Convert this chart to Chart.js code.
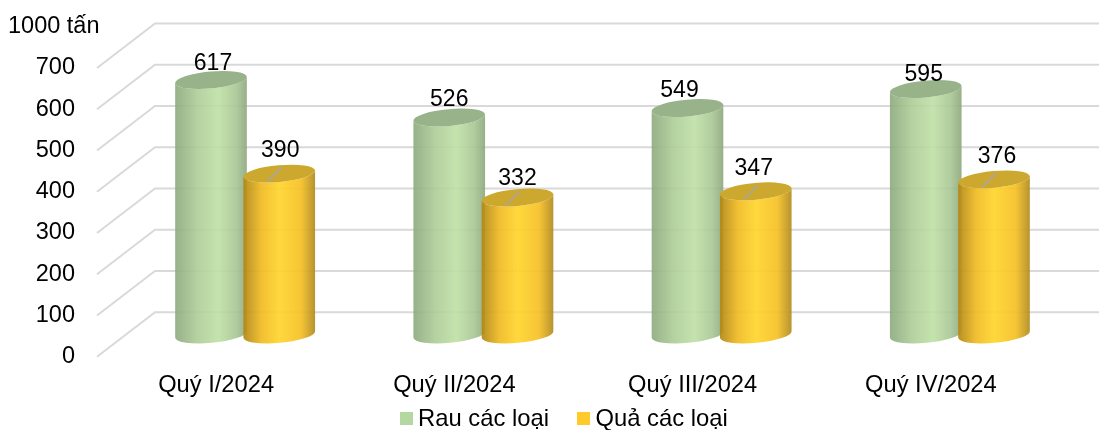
<!DOCTYPE html>
<html lang="vi">
<head>
<meta charset="utf-8">
<title>Rau quả 2024</title>
<script src="https://cdn.jsdelivr.net/npm/chart.js@4"></script>
<style>
    html, body { margin: 0; padding: 0; background: #fff; overflow: hidden; }
    #wrap { position: relative; width: 1099px; height: 430px; overflow: hidden; }
    #legend {
        position: absolute; left: 400px; top: 404px; display: flex; align-items: center;
        font-family: "Liberation Sans", Arial, sans-serif; font-size: 23.8px; color: #000; line-height: 28px; white-space: nowrap;
    }
    #legend .box { display: inline-block; width: 13px; height: 13px; margin-right: 5px; }
    #legend .item { display: flex; align-items: center; margin-right: 28.5px; }
</style>
</head>
<body>
<div id="wrap">
    <canvas id="chart"></canvas>
    <div id="legend"></div>
</div>
<script>
const categories = ['Quý I/2024', 'Quý II/2024', 'Quý III/2024', 'Quý IV/2024'];
const seriesNames = ['Rau các loại', 'Quả các loại'];
const rauValues = [617, 526, 549, 595];
const quaValues = [390, 332, 347, 376];
const yTicks = [0, 100, 200, 300, 400, 500, 600, 700];
const unitLabel = '1000 tấn';

const FONT = '"Liberation Sans", Arial, sans-serif';
const legendColors = ['#b5d8a0', '#ffca2c'];

// oblique depth of the 3D look: back wall offset from the front plane, bars stand half way
const DEPTH_X = 58;
const DEPTH_Y = -44.5;
const TILT = -0.09;
const CAP_RY = 8.4;

const bodyStops = [
    [[0, 'rgba(140,168,124,0.9)'], [0.3, 'rgba(172,204,150,0.9)'], [0.6, 'rgba(190,224,164,0.9)'], [0.85, 'rgba(168,198,148,0.9)'], [1, 'rgba(140,166,122,0.9)']],
    [[0, 'rgba(176,134,20,0.92)'], [0.25, 'rgba(240,186,34,0.92)'], [0.5, 'rgba(255,213,44,0.92)'], [0.8, 'rgba(246,192,36,0.92)'], [1, 'rgba(176,138,30,0.92)']]
];
const capColors = ['#98b38a', '#cda82f'];

// hand placement of the value labels, same as in the source picture [dx, dy from the cap]
const labelNudge = [
    [[2, -16.5], [0, -17.5], [-8, -17.5], [-2, -14.5]],
    [[1, -22.5], [0, -18.5], [-2, -22.5], [3, -22.5]]
];

function drawCylinder(ctx, bar, ds) {
    const cx = bar.x + DEPTH_X / 2;
    const top = bar.y + DEPTH_Y / 2;
    const base = bar.base + DEPTH_Y / 2;
    const rx = bar.width / 2;

    const grad = ctx.createLinearGradient(cx - rx, 0, cx + rx, 0);
    bodyStops[ds].forEach(([p, c]) => grad.addColorStop(p, c));

    ctx.beginPath();
    ctx.ellipse(cx, top, rx, CAP_RY, TILT, Math.PI, 0, true);
    ctx.ellipse(cx, base, rx, CAP_RY, TILT, 0, Math.PI, false);
    ctx.closePath();
    ctx.fillStyle = grad;
    ctx.fill();

    ctx.beginPath();
    ctx.ellipse(cx, top, rx, CAP_RY, TILT, 0, Math.PI * 2);
    ctx.fillStyle = capColors[ds];
    ctx.fill();
}

const depthPlugin = {
    id: 'depth',
    beforeDatasetsDraw(chart) {
        const { ctx, chartArea, scales } = chart;
        ctx.save();
        ctx.strokeStyle = '#d9d9d9';
        ctx.lineWidth = 2;
        scales.y.ticks.forEach((t) => {
            const y = scales.y.getPixelForValue(t.value);
            ctx.beginPath();
            ctx.moveTo(chartArea.left, y);
            ctx.lineTo(chartArea.left + DEPTH_X, y + DEPTH_Y);
            ctx.lineTo(chartArea.right + DEPTH_X, y + DEPTH_Y);
            ctx.stroke();
        });
        ctx.restore();
    },
    // the flat bars are replaced by cylinders
    beforeDatasetDraw() {
        return false;
    },
    afterDatasetsDraw(chart) {
        const { ctx } = chart;
        ctx.save();
        chart.data.datasets.forEach((d, ds) => {
            chart.getDatasetMeta(ds).data.forEach((el) => {
                drawCylinder(ctx, el.getProps(['x', 'y', 'base', 'width'], true), ds);
            });
        });
        ctx.font = '23px ' + FONT;
        ctx.textAlign = 'center';
        ctx.textBaseline = 'middle';
        chart.data.datasets.forEach((d, ds) => {
            chart.getDatasetMeta(ds).data.forEach((el, i) => {
                const p = el.getProps(['x', 'y'], true);
                const cx = p.x + DEPTH_X / 2;
                const top = p.y + DEPTH_Y / 2;
                if (ds === 1) {
                    ctx.strokeStyle = '#a6a6a6';
                    ctx.lineWidth = 1.5;
                    ctx.beginPath();
                    ctx.moveTo(cx + 2, top - 6);
                    ctx.lineTo(cx - 12, top + 8);
                    ctx.stroke();
                }
                ctx.fillStyle = '#000';
                ctx.fillText(d.data[i], cx + labelNudge[ds][i][0], top + labelNudge[ds][i][1]);
            });
        });
        ctx.restore();
    }
};

new Chart(document.getElementById('chart'), {
    type: 'bar',
    data: {
        labels: categories,
        datasets: [
            { label: seriesNames[0], data: rauValues, backgroundColor: legendColors[0] },
            { label: seriesNames[1], data: quaValues, backgroundColor: legendColors[1] }
        ]
    },
    options: {
        responsive: true,
        maintainAspectRatio: false,
        animation: false,
        categoryPercentage: 0.573,
        barPercentage: 1.054,
        layout: { padding: { left: 8, right: 49, top: 0, bottom: 30.8 } },
        plugins: {
            legend: { display: false },
            tooltip: { enabled: false },
            title: {
                display: true,
                text: unitLabel,
                align: 'start',
                color: '#000',
                font: { family: FONT, size: 23.5, weight: 'normal' },
                padding: { top: 12, bottom: 27.8 }
            }
        },
        scales: {
            x: {
                afterFit(scale) { scale.height = 42.5; },
                grid: { display: false, drawTicks: false },
                border: { display: false },
                ticks: { color: '#000', padding: 14.3, maxRotation: 0, autoSkip: false, font: { family: FONT, size: 23.7 } }
            },
            y: {
                min: yTicks[0],
                max: yTicks[yTicks.length - 1],
                afterFit(scale) { scale.width = 89; },
                afterBuildTicks(scale) { scale.ticks = yTicks.map((v) => ({ value: v })); },
                grid: { display: false, drawTicks: false },
                border: { display: false },
                ticks: { color: '#000', padding: 22, font: { family: FONT, size: 23.5 } }
            }
        }
    },
    plugins: [depthPlugin]
});

document.getElementById('legend').innerHTML = seriesNames.map((name, i) => `
    <span class="item"><span class="box" style="background:${legendColors[i]}"></span>${name}</span>
`).join('');
</script>
</body>
</html>
